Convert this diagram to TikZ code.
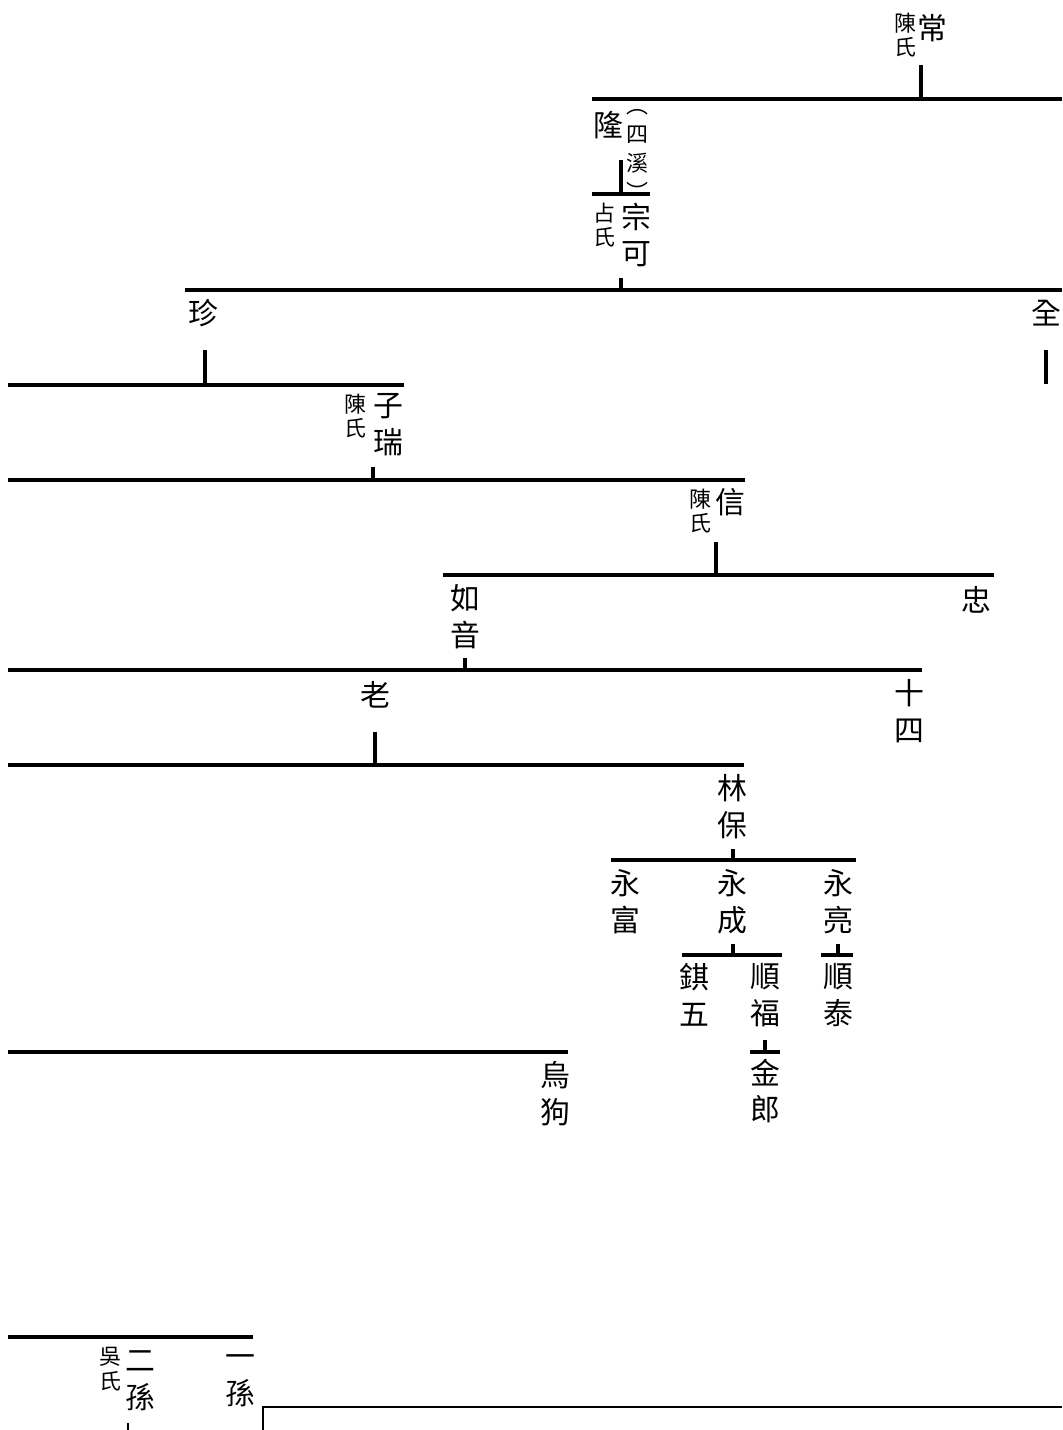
\documentclass[tikz,border=0pt]{standalone}
\usepackage{fontspec}
\newfontfamily\cjk{Noto Sans CJK TC}
\begin{document}
\begin{tikzpicture}[x=0.02cm,y=-0.02cm,
    bar/.style={line width=2.2pt},
    ming/.style={font=\cjk\fontsize{17}{21}\selectfont,align=center,inner sep=0pt},
    shi/.style={font=\cjk\fontsize{12.5}{14}\selectfont,align=center,inner sep=0pt}]
\useasboundingbox (0,0) rectangle (1062,1430);

% 第一代
\node[ming] (chang) at (932,28) {常};
\node[shi] (chenA) at (905,35) {陳\\氏};
\coordinate (tA) at (921,65);
\draw[bar] (592,99) coordinate (bA) -- (1062,99);
\draw[bar] (tA) -- (tA |- bA);

% 隆
\node[ming] (long) at (608,125) {隆};
\node[shi,font=\cjk\fontsize{12.5}{16.5}\selectfont] (sixi) at (637,155) {︵\\四\\溪\\︶};
\coordinate (tB) at (621,160);
\draw[bar] (592,194) coordinate (bB) -- (650,194);
\draw[bar] (tB) -- (tB |- bB);

% 宗可
\node[shi] (zhanshi) at (604,225) {占\\氏};
\node[ming] (zongke) at (636,235) {宗\\可};
\coordinate (tC) at (621,278);
\draw[bar] (185,290) coordinate (bC) -- (1062,290);
\draw[bar] (tC) -- (tC |- bC);

% 珍、全
\node[ming] (zhen) at (203,313) {珍};
\node[ming] (quan) at (1046,313) {全};
\coordinate (tD) at (205,350);
\coordinate (tQ) at (1046,350);
\draw[bar] (8,385) coordinate (bD) -- (404,385);
\draw[bar] (tD) -- (tD |- bD);
\draw[bar] (tQ) -- ++(0,34);

% 子瑞
\node[shi] (chenB) at (355,416) {陳\\氏};
\node[ming] (zirui) at (388,425) {子\\瑞};
\coordinate (tE) at (373,467);
\draw[bar] (8,480) coordinate (bE) -- (745,480);
\draw[bar] (tE) -- (tE |- bE);

% 信
\node[shi] (chenC) at (700,511) {陳\\氏};
\node[ming] (xin) at (730,502) {信};
\coordinate (tF) at (716,542);
\draw[bar] (443,575) coordinate (bF) -- (994,575);
\draw[bar] (tF) -- (tF |- bF);

% 如音、忠
\node[ming] (ruyin) at (465,617) {如\\音};
\node[ming] (zhong) at (976,600) {忠};
\coordinate (tG) at (465,658);
\draw[bar] (8,670) coordinate (bG) -- (922,670);
\draw[bar] (tG) -- (tG |- bG);

% 老、十四
\node[ming] (lao) at (375,695) {老};
\node[ming] (shisi) at (909,711) {十\\四};
\coordinate (tH) at (375,732);
\draw[bar] (8,765) coordinate (bH) -- (744,765);
\draw[bar] (tH) -- (tH |- bH);

% 林保
\node[ming] (linbao) at (732,807) {林\\保};
\coordinate (tI) at (733,849);
\draw[bar] (611,860) coordinate (bI) -- (856,860);
\draw[bar] (tI) -- (tI |- bI);

\node[ming] (yongfu) at (625,902) {永\\富};
\node[ming] (yongcheng) at (732,902) {永\\成};
\node[ming] (yongliang) at (838,902) {永\\亮};
\coordinate (tJ) at (733,944);
\coordinate (tK) at (838,944);
\draw[bar] (682,955) coordinate (bJ) -- (782,955);
\draw[bar] (821,955) coordinate (bK) -- (853,955);
\draw[bar] (tJ) -- (tJ |- bJ);
\draw[bar] (tK) -- (tK |- bK);

\node[ming] (qiwu) at (694,995) {錤\\五};
\node[ming] (shunfu) at (765,995) {順\\福};
\node[ming] (shuntai) at (838,995) {順\\泰};
\coordinate (tL) at (765,1040);
\draw[bar] (750,1052) coordinate (bL) -- (780,1052);
\draw[bar] (tL) -- (tL |- bL);
\node[ming] (jinlang) at (765,1091) {金\\郎};

% 烏狗
\draw[bar] (8,1052) coordinate (bM) -- (568,1052);
\node[ming] (wugou) at (555,1094) {烏\\狗};

% 下段
\draw[bar] (8,1337) coordinate (bN) -- (253,1337);
\node[shi] (wushi) at (110,1369) {吳\\氏};
\node[ming] (ersun) at (140,1381) {二\\孫};
\node[ming] (yisun) at (240,1381) {一\\孫};
\coordinate (tN) at (128,1423);
\draw[line width=1.6pt] (tN) -- (128,1430);
\draw[line width=1.6pt] (263,1430) -- (263,1407) coordinate (rA) -- (1062,1407);
\end{tikzpicture}
\end{document}
